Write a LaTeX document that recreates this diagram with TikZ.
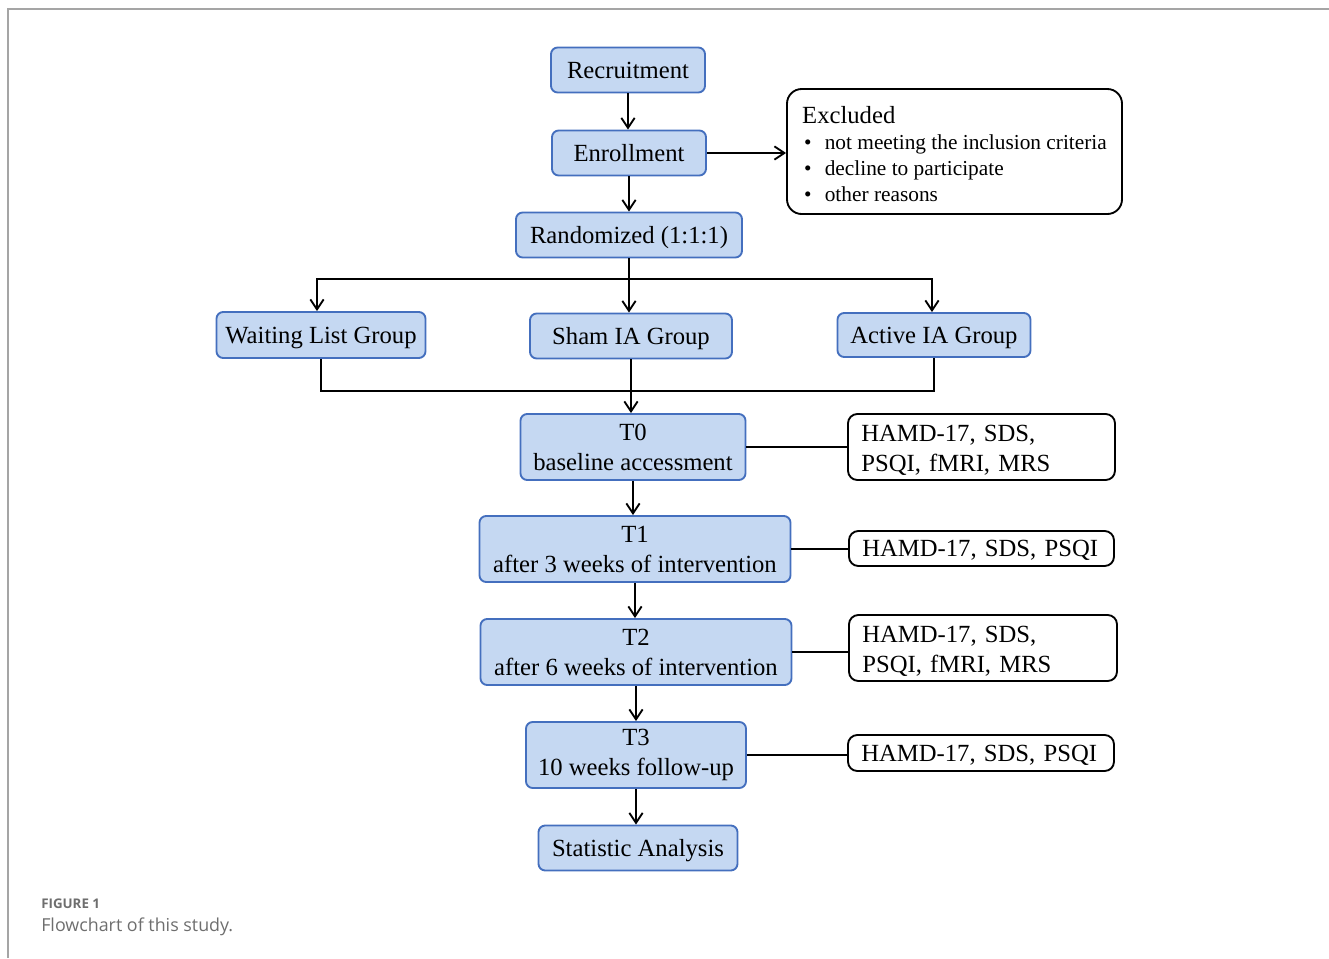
\documentclass[tikz,border=0pt]{standalone}
\usepackage{fontspec}
\setmainfont{Liberation Serif}
\newfontfamily\capfont{Open Sans}
\usetikzlibrary{arrows.meta}
\definecolor{boxfill}{RGB}{197,216,242}
\definecolor{boxline}{RGB}{68,111,190}
\definecolor{framegray}{RGB}{165,165,165}
\definecolor{capgray}{RGB}{110,110,110}
\begin{document}
\begin{tikzpicture}[x=0.75pt,y=-0.75pt,
  bbox/.style={draw=boxline,fill=boxfill,line width=1.4pt,rounded corners=5pt,
    align=center,inner sep=0pt,font=\fontsize{18.5}{22.5}\selectfont},
  oneline/.style={text height=16pt,text depth=3.8pt},
  kbox/.style={draw=black,line width=1.4pt,rounded corners=7pt,align=left,
    inner xsep=10pt,inner ysep=0pt,font=\fontsize{18.5}{22.5}\selectfont},
  conn/.style={line width=1.5pt,draw=black},
  arr/.style={conn,-{Straight Barb[length=7.5pt,width=10pt,line width=1.4pt]}}]
\useasboundingbox (0,0) rectangle (1329,958);
% frame
\draw[framegray,line width=1.5pt] (8,958) -- (8,9) -- (1329,9);
% main boxes
\node[bbox,oneline,minimum width=115.5pt,minimum height=33.75pt] (rec) at (628,70) {Recruitment};
\node[bbox,oneline,minimum width=115.5pt,minimum height=33.75pt] (enr) at (629,153) {Enrollment};
\node[bbox,oneline,minimum width=169.5pt,minimum height=33.75pt] (rnd) at (629,235) {Randomized (1:1:1)};
\node[draw=black,line width=1.4pt,rounded corners=11pt,minimum width=251.25pt,minimum height=93.75pt,
  align=left,inner sep=0pt,font=\fontsize{16}{19.5}\selectfont] (exc) at (954.5,151.5)
 {\rule{0pt}{16pt}{\fontsize{18.5}{19.5}\selectfont Excluded}\\
  \makebox[17pt][l]{\hspace{1.5pt}\textbullet}not meeting the inclusion criteria\\
  \makebox[17pt][l]{\hspace{1.5pt}\textbullet}decline to participate\\
  \makebox[17pt][l]{\hspace{1.5pt}\textbullet}other reasons};
\node[bbox,oneline,minimum width=156.75pt,minimum height=34.5pt] (wait) at (321,335) {Waiting List Group};
\node[bbox,oneline,minimum width=151.5pt,minimum height=33.75pt] (sham) at (631,336) {Sham IA Group};
\node[bbox,oneline,minimum width=144.75pt,minimum height=33pt] (act) at (934,335) {Active IA Group};
\node[bbox,minimum width=168.75pt,minimum height=49.5pt] (t0) at (633,447) {T0\\baseline accessment};
\node[bbox,minimum width=233.25pt,minimum height=49.5pt] (t1) at (635,549) {T1\\after 3 weeks of intervention};
\node[bbox,minimum width=233.25pt,minimum height=49.5pt] (t2) at (636,652) {T2\\after 6 weeks of intervention};
\node[bbox,minimum width=165pt,minimum height=49.5pt] (t3) at (636,755) {T3\\10 weeks follow-up};
\node[bbox,oneline,minimum width=149.25pt,minimum height=33.75pt] (st) at (638,848) {Statistic Analysis};
% right boxes
\node[kbox,minimum width=200.25pt,minimum height=49.5pt,text width=180.25pt] (r0) at (981.5,447) {\rule{0pt}{16.5pt}HAMD-17, SDS,\\PSQI, fMRI, MRS};
\node[kbox,oneline,minimum width=198.75pt,minimum height=26.25pt,text width=178.75pt] (r1) at (981.5,548.5) {HAMD-17, SDS, PSQI};
\node[kbox,minimum width=201pt,minimum height=49.5pt,text width=181pt] (r2) at (983,648) {\rule{0pt}{16.5pt}HAMD-17, SDS,\\PSQI, fMRI, MRS};
\node[kbox,oneline,minimum width=199.5pt,minimum height=27pt,text width=179.5pt] (r3) at (981,753) {HAMD-17, SDS, PSQI};
% connectors
\draw[arr] (rec.south) -- (rec.south |- enr.north);
\draw[arr] (enr.south) -- (enr.south |- rnd.north);
\draw[arr] (enr.east) -- (exc.west |- enr.east);
\coordinate (br) at (629,279);
\draw[arr] (rnd.south) -- (rnd.south |- sham.north);
\draw[arr] (br) -| ([xshift=-3pt]wait.north);
\draw[arr] (br) -| ([xshift=-1.5pt]act.north);
\coordinate (mg) at (631,391);
\draw[conn] (wait.south) |- (mg) -| (act.south);
\draw[arr] (sham.south) -- (sham.south |- t0.north);
\draw[arr] (t0.south) -- (t0.south |- t1.north);
\draw[arr] (t1.south) -- (t1.south |- t2.north);
\draw[arr] (t2.south) -- (t2.south |- t3.north);
\draw[arr] (t3.south) -- (t3.south |- st.north);
\draw[conn] (t0.east) -- (r0.west |- t0.east);
\draw[conn] (t1.east) -- (r1.west |- t1.east);
\draw[conn] (t2.east) -- (r2.west |- t2.east);
\draw[conn] (t3.east) -- (r3.west |- t3.east);
% caption
\node[anchor=base west,inner sep=0pt,text=capgray,font=\capfont\bfseries\fontsize{10}{12}\selectfont] (figlab) at (41,908) {FIGURE 1};
\node[anchor=base west,inner sep=0pt,text=capgray,font=\capfont\fontsize{13.4}{15}\selectfont] (figcap) at (41,931) {Flowchart of this study.};
\end{tikzpicture}
\end{document}
